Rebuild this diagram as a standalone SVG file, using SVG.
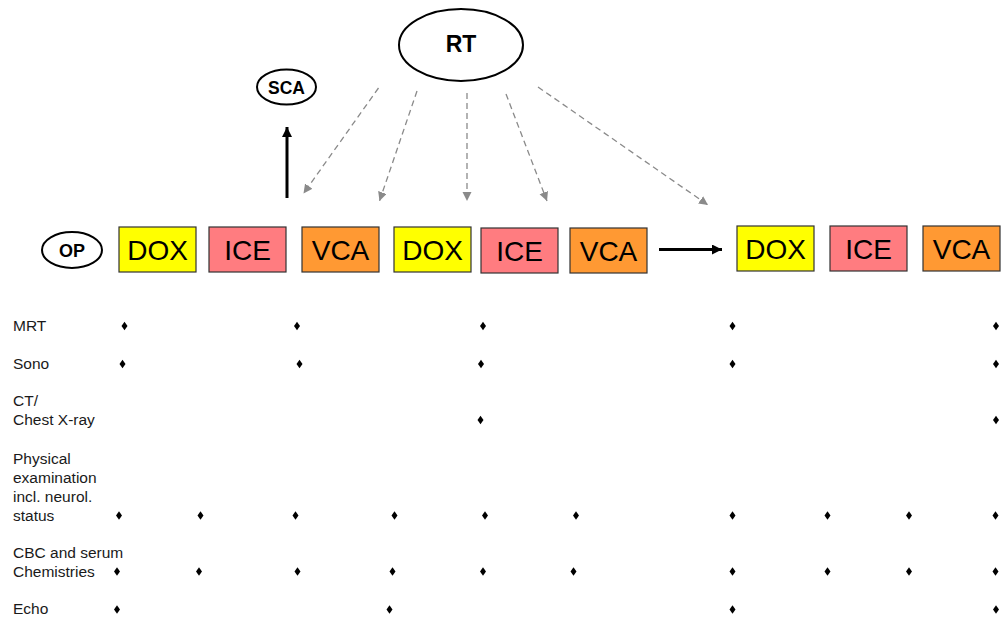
<svg xmlns="http://www.w3.org/2000/svg" xmlns:xlink="http://www.w3.org/1999/xlink" width="1003" height="618" viewBox="0 0 1003 618">
  <style>
    .oval { fill: #ffffff; stroke: #000000; stroke-width: 2; }
    .oval-text { font-family: "Liberation Sans", Arial, sans-serif; font-weight: bold; fill: #000000; text-anchor: middle; }
    .box { stroke: #333333; stroke-width: 1.2; }
    .dox { fill: #ffff00; }
    .ice { fill: #ff7c80; }
    .vca { fill: #ff9933; }
    .box-text { font-family: "Liberation Sans", Arial, sans-serif; font-size: 28px; fill: #000000; text-anchor: middle; }
    .dash { stroke: #8a8a8a; stroke-width: 1.3; stroke-dasharray: 6 4; fill: none; marker-end: url(#grayHead); }
    .solid { stroke: #000000; stroke-width: 3; fill: none; marker-end: url(#blackHead); }
    .label { font-family: "Liberation Sans", Arial, sans-serif; font-size: 15.5px; fill: #1a1a1a; }
  </style>
  <defs>
    <marker id="grayHead" markerUnits="userSpaceOnUse" markerWidth="10" markerHeight="10" refX="9" refY="4.5" orient="auto">
      <path d="M0,0 L9,4.5 L0,9 z" fill="#8a8a8a"/>
    </marker>
    <marker id="blackHead" markerUnits="userSpaceOnUse" markerWidth="11" markerHeight="11" refX="10" refY="5" orient="auto">
      <path d="M0,0 L10,5 L0,10 z" fill="#000000"/>
    </marker>
    <polygon id="dot" points="0,-4.3 3,0 0,4.3 -3,0" fill="#000000"/>
  </defs>

  <rect width="1003" height="618" fill="#ffffff"/>

  <!-- ovals -->
  <g id="RT">
    <ellipse class="oval" cx="461" cy="45" rx="62" ry="36"/>
    <text class="oval-text" x="461" y="52" font-size="23">RT</text>
  </g>
  <g id="SCA">
    <ellipse class="oval" cx="286.5" cy="87" rx="29.5" ry="17.5"/>
    <text class="oval-text" x="286.5" y="94" font-size="17.5">SCA</text>
  </g>
  <g id="OP">
    <ellipse class="oval" cx="72" cy="250" rx="30" ry="18"/>
    <text class="oval-text" x="72" y="256.5" font-size="18">OP</text>
  </g>

  <!-- treatment blocks -->
  <g id="DOX1"><rect class="box dox" x="119" y="227" width="77" height="45"/><text class="box-text" x="157.5" y="260">DOX</text></g>
  <g id="ICE1"><rect class="box ice" x="209" y="227" width="77" height="45"/><text class="box-text" x="247.5" y="260">ICE</text></g>
  <g id="VCA1"><rect class="box vca" x="302" y="227" width="77" height="45"/><text class="box-text" x="340.5" y="260">VCA</text></g>
  <g id="DOX2"><rect class="box dox" x="394" y="227" width="77" height="45"/><text class="box-text" x="432.5" y="260">DOX</text></g>
  <g id="ICE2"><rect class="box ice" x="481" y="228" width="77" height="45"/><text class="box-text" x="519.5" y="261">ICE</text></g>
  <g id="VCA2"><rect class="box vca" x="570" y="228" width="77" height="45"/><text class="box-text" x="608.5" y="261">VCA</text></g>
  <g id="DOX3"><rect class="box dox" x="737" y="226" width="77" height="45"/><text class="box-text" x="775.5" y="259">DOX</text></g>
  <g id="ICE3"><rect class="box ice" x="830" y="226" width="77" height="45"/><text class="box-text" x="868.5" y="259">ICE</text></g>
  <g id="VCA3"><rect class="box vca" x="923" y="226" width="77" height="45"/><text class="box-text" x="961.5" y="259">VCA</text></g>

  <!-- connectors -->
  <g id="connectors">
    <line class="dash" x1="378.5" y1="88" x2="303.5" y2="193.5"/>
    <line class="dash" x1="417" y1="91" x2="379.5" y2="201"/>
    <line class="dash" x1="467" y1="93" x2="467" y2="201"/>
    <line class="dash" x1="506" y1="94" x2="547" y2="201"/>
    <line class="dash" x1="538" y1="87" x2="708" y2="205"/>
    <line class="solid" x1="287" y1="198" x2="287" y2="127"/>
    <line class="solid" x1="659" y1="249.5" x2="722" y2="249.5"/>
  </g>

  <!-- examination schedule -->
  <g id="labels">
    <text class="label" x="13" y="331">MRT</text>
    <text class="label" x="13" y="369">Sono</text>
    <text class="label" x="13" y="406">CT/</text>
    <text class="label" x="13" y="425">Chest X-ray</text>
    <text class="label" x="13" y="463.5">Physical</text>
    <text class="label" x="13" y="482.5">examination</text>
    <text class="label" x="13" y="501.5">incl. neurol.</text>
    <text class="label" x="13" y="520.5">status</text>
    <text class="label" x="13" y="557.5">CBC and serum</text>
    <text class="label" x="13" y="576.5">Chemistries</text>
    <text class="label" x="13" y="614">Echo</text>
  </g>

  <g id="marks">
    <!-- MRT -->
    <use xlink:href="#dot" x="124.5" y="326"/>
    <use xlink:href="#dot" x="297" y="326"/>
    <use xlink:href="#dot" x="483" y="326"/>
    <use xlink:href="#dot" x="732.5" y="326"/>
    <use xlink:href="#dot" x="996" y="326"/>
    <!-- Sono -->
    <use xlink:href="#dot" x="122.5" y="364"/>
    <use xlink:href="#dot" x="299.5" y="364"/>
    <use xlink:href="#dot" x="481" y="364"/>
    <use xlink:href="#dot" x="732.5" y="364"/>
    <use xlink:href="#dot" x="996" y="364"/>
    <!-- CT / Chest X-ray -->
    <use xlink:href="#dot" x="480.5" y="420"/>
    <use xlink:href="#dot" x="996" y="420"/>
    <!-- Physical examination -->
    <use xlink:href="#dot" x="119" y="515.5"/>
    <use xlink:href="#dot" x="200.5" y="515.5"/>
    <use xlink:href="#dot" x="295.5" y="515.5"/>
    <use xlink:href="#dot" x="394.5" y="515.5"/>
    <use xlink:href="#dot" x="485" y="515.5"/>
    <use xlink:href="#dot" x="576" y="515.5"/>
    <use xlink:href="#dot" x="732.5" y="515.5"/>
    <use xlink:href="#dot" x="827.5" y="515.5"/>
    <use xlink:href="#dot" x="909" y="515.5"/>
    <use xlink:href="#dot" x="995.5" y="515.5"/>
    <!-- CBC and serum chemistries -->
    <use xlink:href="#dot" x="117" y="571.5"/>
    <use xlink:href="#dot" x="199" y="571.5"/>
    <use xlink:href="#dot" x="297.5" y="571.5"/>
    <use xlink:href="#dot" x="392.5" y="571.5"/>
    <use xlink:href="#dot" x="483" y="571.5"/>
    <use xlink:href="#dot" x="573.5" y="571.5"/>
    <use xlink:href="#dot" x="732.5" y="571.5"/>
    <use xlink:href="#dot" x="827.5" y="571.5"/>
    <use xlink:href="#dot" x="909" y="571.5"/>
    <use xlink:href="#dot" x="995.5" y="571.5"/>
    <!-- Echo -->
    <use xlink:href="#dot" x="117" y="609.5"/>
    <use xlink:href="#dot" x="389.5" y="609.5"/>
    <use xlink:href="#dot" x="732.5" y="609.5"/>
    <use xlink:href="#dot" x="996" y="609.5"/>
  </g>
</svg>
